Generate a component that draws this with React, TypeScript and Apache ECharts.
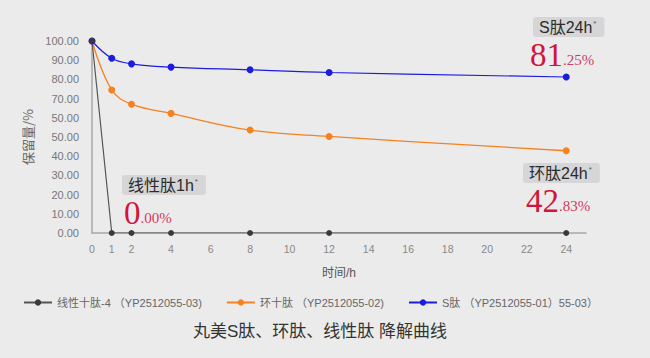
import React, { useEffect, useRef } from "react";
import * as echarts from "echarts";

const xTickLabels = [0, 1, 2, 4, 6, 8, 10, 12, 14, 16, 18, 20, 22, 24];
const yTickLabels = ["0.00", "10.00", "20.00", "30.00", "40.00", "50.00", "50.00", "70.00", "80.00", "90.00", "100.00"];
const hours = [0, 1, 2, 4, 8, 12, 24];
const linearValues = [100, 0, 0, 0, 0, 0, 0];
const cyclicValues = [100, 74.5, 67.1, 62.3, 53.6, 50.3, 42.83];
const sValues = [100, 91.0, 88.1, 86.4, 85.0, 83.6, 81.25];
const seriesNames = ["线性十肽-4 （YP2512055-03)", "环十肽 （YP2512055-02)", "S肽 （YP2512055-01）55-03）"];
const colors = ["#3a3a3a", "#f5821f", "#1c1ce0"];
const callouts = [
  { label: "S肽24h", big: "81", small: ".25%" },
  { label: "环肽24h", big: "42", small: ".83%" },
  { label: "线性肽1h", big: "0", small: ".00%" },
];

function pair(vals: number[]) {
  return hours.map((h, i) => [h, vals[i]]);
}

function callout(x: number, y: number, c: { label: string; big: string; small: string }, bigX: number) {
  return {
    type: "group",
    children: [
      {
        type: "text",
        style: {
          x,
          y,
          text: "{t|" + c.label + "}{a|*}",
          backgroundColor: "#d6d6d8",
          borderRadius: 3,
          padding: [2, 8, 1, 6],
          rich: {
            t: { fontSize: 16, fontFamily: "Liberation Sans, Noto Sans CJK SC", fill: "#2b2b2b", color: "#2b2b2b", lineHeight: 17 },
            a: { fontSize: 8, fontFamily: "Liberation Sans", fill: "#555", color: "#555", verticalAlign: "top", padding: [0, 0, 8, 1], lineHeight: 17 },
          },
        },
      },
      {
        type: "text",
        style: {
          x: bigX,
          y: y + 38,
          text: "{b|" + c.big + "}{s|" + c.small + "}",
          verticalAlign: "middle",
          rich: {
            b: { fontSize: 33, fontFamily: "Liberation Serif", fill: "#d0163a", color: "#d0163a" },
            s: { fontSize: 15, fontFamily: "Liberation Serif", fill: "#d33a5a", color: "#d33a5a", padding: [10, 0, 0, 0] },
          },
        },
      },
    ],
  };
}

export default function App() {
  const ref = useRef<HTMLDivElement>(null);
  useEffect(() => {
    if (!ref.current) return;
    const chart = echarts.init(ref.current, null, { renderer: "svg" });
    chart.setOption({
      animation: false,
      backgroundColor: "#ebebeb",
      grid: { left: 92, right: 64, top: 41, bottom: 125, containLabel: false },
      xAxis: {
        type: "value",
        min: 0,
        max: 25,
        interval: 1,
        name: "时间/h",
        nameLocation: "middle",
        nameGap: 34,
        nameTextStyle: { color: "#555", fontSize: 12, fontFamily: "Liberation Sans, Noto Sans CJK SC" },
        axisLine: { lineStyle: { color: "#a8a8a8", width: 1.5 } },
        axisTick: { show: false },
        splitLine: { show: false },
        axisLabel: {
          color: "#888",
          fontSize: 10.5,
          margin: 10,
          fontFamily: "Liberation Sans",
          formatter: (v: number) => (xTickLabels.indexOf(v) >= 0 ? String(v) : ""),
        },
      },
      yAxis: {
        type: "value",
        min: 0,
        max: 100,
        interval: 10,
        name: "保留量/%",
        nameLocation: "middle",
        nameGap: 55,
        nameTextStyle: { color: "#666", fontSize: 13, fontFamily: "Noto Sans CJK SC" },
        axisLine: { show: true, lineStyle: { color: "#a8a8a8", width: 1.5 } },
        axisTick: { show: false },
        splitLine: { show: false },
        axisLabel: {
          color: "#777",
          fontSize: 11,
          margin: 13,
          fontFamily: "Liberation Sans",
          formatter: (v: number) => yTickLabels[Math.round(v / 10)] ?? "",
        },
      },
      legend: {
        left: 18,
        top: 292,
        itemWidth: 28,
        itemHeight: 8,
        itemGap: 24,
        data: seriesNames,
        textStyle: { color: "#666", fontSize: 11, fontFamily: "Liberation Sans, Noto Sans CJK SC" },
      },
      title: {
        text: "丸美S肽、环肽、线性肽 降解曲线",
        left: 188,
        top: 318,
        textStyle: { color: "#333", fontSize: 17, fontWeight: "normal", fontFamily: "Liberation Sans, Noto Sans CJK SC" },
      },
      series: [
        {
          name: seriesNames[1],
          type: "line",
          smooth: 0.4,
          data: pair(cyclicValues),
          symbol: "circle",
          symbolSize: 7,
          itemStyle: { color: colors[1] },
          lineStyle: { color: colors[1], width: 1.3 },
        },
        {
          name: seriesNames[2],
          type: "line",
          smooth: 0.4,
          data: pair(sValues),
          symbol: "circle",
          symbolSize: 7,
          itemStyle: { color: colors[2] },
          lineStyle: { color: colors[2], width: 1.2 },
        },
        {
          name: seriesNames[0],
          type: "line",
          data: pair(linearValues),
          symbol: "circle",
          symbolSize: 6,
          itemStyle: { color: colors[0] },
          lineStyle: { color: "#555", width: 1.2 },
        },
      ],
      graphic: [
        callout(533, 17, callouts[0], 530),
        callout(523, 163, callouts[1], 526),
        callout(122, 175, callouts[2], 124),
      ],
    });
    return () => chart.dispose();
  }, []);
  return <div ref={ref} style={{ width: 650, height: 358, position: "absolute", left: 0, top: 0 }} />;
}
